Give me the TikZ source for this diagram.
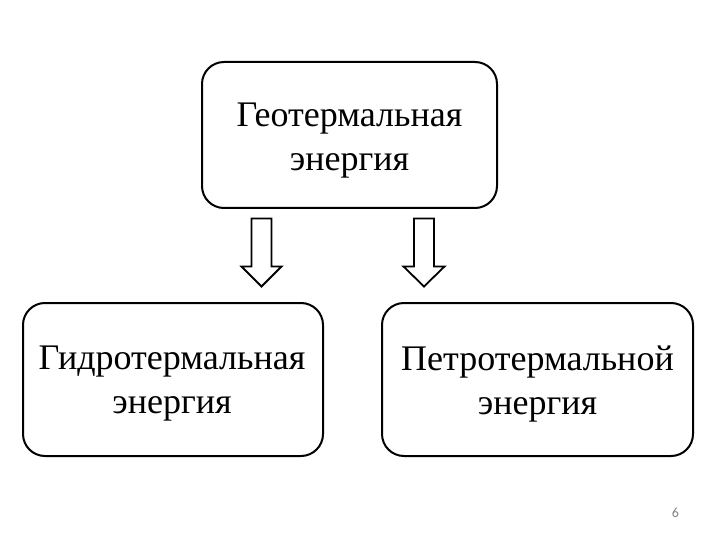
\documentclass[tikz,border=0pt]{standalone}
\usepackage{fontspec}
\setmainfont{Liberation Serif}
\newfontfamily\numfont{Carlito}
\begin{document}
\begin{tikzpicture}[x=1pt,y=-1pt,
  box/.style={draw=black,line width=2pt,rounded corners=22pt,inner sep=0pt},
  lbl/.style={align=center,font=\fontsize{36}{44}\selectfont},
  arr/.style={draw=black,line width=1.8pt,fill=white,line join=miter}]
\useasboundingbox (0,0) rectangle (720,540);
\draw[box] (202,62) rectangle (497,208);
\node[lbl] (top) at (349.5,141) {Геотермальная\\энергия};
\draw[box] (23,303) rectangle (323,456);
\node[lbl] (left) at (172,384) {Гидротермальная\\энергия};
\draw[box] (382,303) rectangle (693,456);
\node[lbl] (right) at (537.5,384) {Петротермальной\\энергия};
\draw[arr] (251.5,218.5) -- (271.5,218.5) -- (271.5,266.5) -- (281.5,266.5) -- (261.5,286.5) -- (241.5,266.5) -- (251.5,266.5) -- cycle;
\draw[arr] (414,218.5) -- (434,218.5) -- (434,266.5) -- (444.5,266.5) -- (424,286.5) -- (403.5,266.5) -- (414,266.5) -- cycle;
\node[font=\numfont\fontsize{14}{16}\selectfont,text=gray] (pg) at (675.5,513) {6};
\end{tikzpicture}
\end{document}
